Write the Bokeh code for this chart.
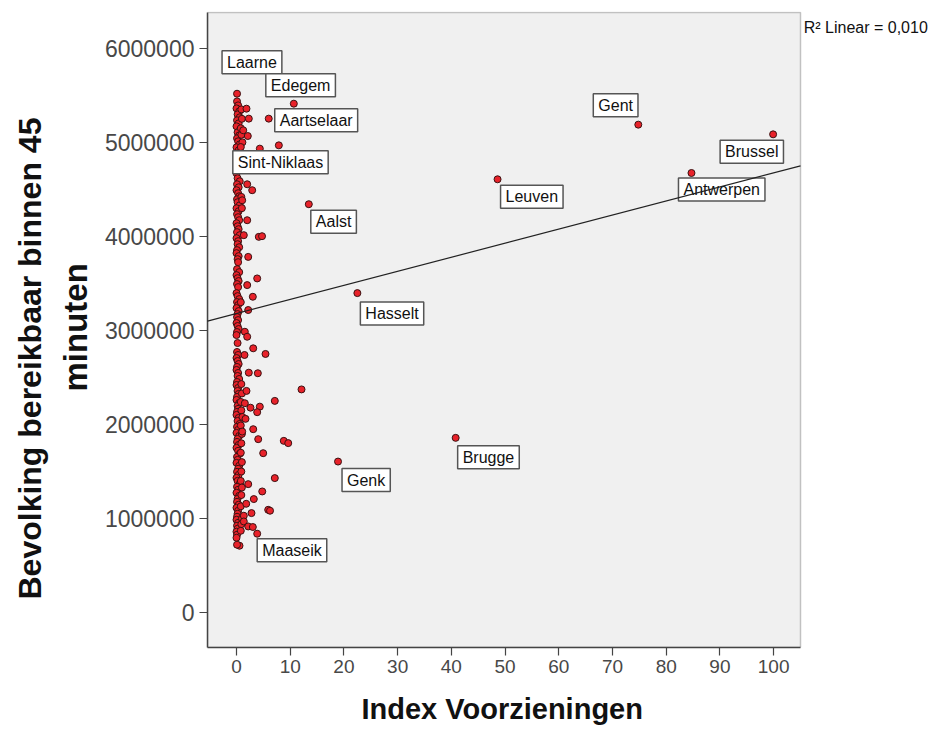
from bokeh.plotting import figure
from bokeh.models import Range1d, FixedTicker, Label, BoxAnnotation, Title
from bokeh.embed import file_html
from bokeh.resources import INLINE

# ---------------- data ----------------
# municipalities with an index close to 0 (the dense column)
col_index = [0.1, 0.3, 0.0, 0.5, 0.2, 0.6, 0.1, 0.4, 0.0, 0.7, 0.2, 0.5, 0.1, 0.3, 0.6, 0.0,
             0.4, 0.2, 0.5, 0.1, 0.3, 0.0, 0.2, 0.6, 0.1, 0.4, 0.0, 0.3, 0.5, 0.1, 0.2, 0.6,
             0.0, 0.4, 0.1, 0.3, 0.5, 0.0, 0.2, 0.4, 0.1, 0.6, 0.0, 0.3, 0.2, 0.5, 0.1, 0.0,
             0.4, 0.2, 0.3, 0.1, 0.5, 0.0, 0.2, 0.4, 0.1, 0.3, 0.0, 0.2, 0.5, 0.1, 0.3, 0.0,
             0.4, 0.2, 0.1, 0.3, 0.0, 0.2, 0.4, 0.1, 0.0, 0.2, 0.1, 0.3, 0.0, 0.2, 0.4, 0.1,
             0.0, 0.3, 0.2, 0.5, 0.1, 0.0, 0.3, 0.2, 0.4, 0.1, 0.0, 0.5, 0.2, 0.3, 0.1, 0.0,
             0.4, 0.2, 0.6, 0.1, 0.3, 0.0, 0.5, 0.2, 0.1, 0.4, 0.0, 0.3, 0.6, 0.1, 0.2, 0.0,
             0.5, 0.3, 0.1, 0.4, 0.0, 0.2, 0.6, 0.1, 0.3, 0.0, 0.5, 0.2, 0.1, 0.4, 0.0, 0.3,
             0.2, 0.1, 0.0, 0.3, 0.1, 0.2, 0.0, 0.1, 0.0]
col_pop = [5435000, 5393000, 5361000, 5329000, 5297000, 5266000, 5234000, 5202000, 5170000,
           5138000, 5106000, 5074000, 5043000, 5011000, 4979000, 4947000, 4915000, 4883000,
           4830000, 4777000, 4724000, 4671000, 4618000, 4586000, 4554000, 4522000, 4491000,
           4459000, 4427000, 4395000, 4363000, 4331000, 4299000, 4268000, 4236000, 4204000,
           4172000, 4140000, 4108000, 4077000, 4045000, 4013000, 3981000, 3949000, 3917000,
           3885000, 3854000, 3822000, 3790000, 3758000, 3726000, 3652000, 3620000, 3588000,
           3556000, 3525000, 3493000, 3461000, 3397000, 3365000, 3333000, 3302000, 3270000,
           3238000, 3206000, 3174000, 3142000, 3110000, 3079000, 3047000, 3015000, 2983000,
           2951000, 2866000, 2771000, 2739000, 2707000, 2675000, 2643000, 2612000, 2580000,
           2548000, 2516000, 2484000, 2452000, 2420000, 2389000, 2357000, 2325000, 2293000,
           2261000, 2229000, 2198000, 2166000, 2134000, 2102000, 2070000, 2038000, 2006000,
           1975000, 1943000, 1911000, 1879000, 1847000, 1815000, 1783000, 1752000, 1720000,
           1688000, 1656000, 1624000, 1592000, 1561000, 1529000, 1497000, 1465000, 1433000,
           1401000, 1369000, 1338000, 1306000, 1274000, 1242000, 1210000, 1178000, 1147000,
           1115000, 1083000, 1051000, 1019000, 987000, 955000, 924000, 892000, 860000,
           828000, 796000]

# second, slightly wider band of the column
band_index = [0.9, 1.0, 0.8, 0.9, 1.1, 0.8, 0.9, 1.0, 0.8, 0.9, 1.0, 0.8, 0.9, 1.1,
              0.8, 1.0, 0.9, 0.8, 1.0, 0.9, 0.8, 1.0, 0.9, 0.8, 1.0, 0.9, 0.8]
band_pop = [5350000, 5250000, 5150000, 5080000, 5000000, 4950000, 4420000, 4300000,
            3300000, 2430000, 2330000, 2240000, 2150000, 2080000, 1990000, 1900000,
            1800000, 1700000, 1600000, 1500000, 1400000, 1330000, 1250000, 1130000,
            1000000, 940000, 870000]

# scattered municipalities with a small index
other_index = [1.86, 2.29, 1.25, 2.10, 7.88, 1.99, 2.92, 1.06, 1.99, 1.36, 4.15, 4.75,
               2.18, 3.85, 1.99, 3.04, 2.18, 1.55, 1.99, 3.11, 5.40, 1.49, 2.29, 3.97,
               12.10, 1.86, 7.13, 1.55, 2.60, 4.34, 3.85, 1.68, 3.11, 1.06, 4.04, 8.80,
               9.63, 4.97, 7.13, 2.18, 4.79, 3.22, 1.81, 5.90, 6.24, 2.79, 1.36, 1.36,
               2.18, 3.04, 0.56, 0.10]
other_pop = [5358000, 5252000, 5128000, 5067000, 4968000, 4554000, 4491000, 4384000,
             4172000, 4013000, 3995000, 4002000, 3782000, 3553000, 3482000, 3358000,
             3217000, 2986000, 2933000, 2810000, 2750000, 2739000, 2551000, 2545000,
             2373000, 2357000, 2251000, 2226000, 2179000, 2190000, 2131000, 2060000,
             1950000, 1925000, 1844000, 1826000, 1802000, 1695000, 1430000, 1366000,
             1288000, 1207000, 1157000, 1093000, 1083000, 1058000, 1030000, 969000,
             916000, 910000, 711000, 722000]

# labelled municipalities
names = ["Laarne", "Edegem", "Aartselaar", "Sint-Niklaas", "Aalst", "Leuven", "Gent",
         "Brussel", "Antwerpen", "Hasselt", "Brugge", "Genk", "Maaseik"]
named_index = [0.1, 10.67, 6.0, 4.34, 13.46, 48.6, 74.8, 99.9, 84.7, 22.5, 40.8, 18.9, 3.85]
named_pop = [5517000, 5411000, 5252000, 4933000, 4342000, 4607000, 5188000, 5085000,
             4674000, 3397000, 1858000, 1606000, 839000]

x_ticks = [0, 10, 20, 30, 40, 50, 60, 70, 80, 90, 100]
y_ticks = [0, 1000000, 2000000, 3000000, 4000000, 5000000, 6000000]
y_tick_labels = ["0", "1000000", "2000000", "3000000", "4000000", "5000000", "6000000"]

fit_intercept = 3180000
fit_slope = 14950
r2_text = "R\u00b2 Linear = 0,010"

x_title = "Index Voorzieningen"
y_title_lines = ["Bevolking bereikbaar binnen 45", "minuten"]

# ---------------- layout / styling ----------------
FONT = "Liberation Sans"
AREA_X = (-5.4, 105.0)            # plot area (grey box) in data units
AREA_Y = (-371000, 6380000)
VIEW_X = (-5.4, 129.2)            # frame extends right so the R2 note can sit beside the box
VIEW_Y = (-371000, 6391000)

# box corner offset (px, right / down) from the point for each label
label_offsets = {
    "Laarne": (-15, -43), "Edegem": (-28, -30), "Aartselaar": (6, -10),
    "Sint-Niklaas": (-27, 2), "Aalst": (2, 6), "Leuven": (3, 6), "Gent": (-45, -31),
    "Brussel": (-53, 6), "Antwerpen": (-13, 5), "Hasselt": (3, 9), "Brugge": (2, 8),
    "Genk": (4, 7), "Maaseik": (0, 5),
}

p = figure(width=930, height=740,
           x_range=Range1d(*VIEW_X), y_range=Range1d(*VIEW_Y),
           output_backend="svg", toolbar_location=None,
           min_border_left=207, min_border_right=0, min_border_top=11, min_border_bottom=92)

p.background_fill_color = "white"
p.border_fill_color = "white"
p.outline_line_color = None
p.grid.visible = False

p.add_layout(BoxAnnotation(left=AREA_X[0], right=AREA_X[1], bottom=AREA_Y[0], top=AREA_Y[1],
                           fill_color="#f0f0f0", fill_alpha=1.0,
                           line_color="#444444", line_width=1.5, level="underlay"))

for ax in (p.xaxis, p.yaxis):
    ax.axis_line_color = "#444444"
    ax.axis_line_width = 1.5
    ax.major_tick_line_color = "#444444"
    ax.major_tick_line_width = 1.2
    ax.major_tick_out = 8
    ax.major_tick_in = 0
    ax.minor_tick_out = 0
    ax.minor_tick_in = 0
    ax.major_label_text_font = FONT
    ax.major_label_text_color = "#484848"

p.xaxis.bounds = AREA_X
p.yaxis.bounds = AREA_Y
p.xaxis.ticker = FixedTicker(ticks=x_ticks)
p.yaxis.ticker = FixedTicker(ticks=y_ticks)
p.yaxis.major_label_overrides = {t: s for t, s in zip(y_ticks, y_tick_labels)}
p.xaxis.major_label_text_font_size = "19px"
p.yaxis.major_label_text_font_size = "23px"
p.xaxis.major_label_standoff = 4
p.yaxis.major_label_standoff = 5

title_style = dict(text_font=FONT, text_font_style="bold", text_color="#111111", align="left")
# x title: placed under the middle of the grey plot area (frame is wider than the box)
p.add_layout(Title(text=x_title, text_font_size="29px", offset=154, standoff=31,
                   **title_style), "below")
# y title: two lines, inner line first; offsets measured from the bottom of the frame
p.add_layout(Title(text=y_title_lines[1], text_font_size="33px", offset=256, standoff=15,
                   **title_style), "left")
p.add_layout(Title(text=y_title_lines[0], text_font_size="32px", offset=48, standoff=0,
                   **title_style), "left")

dot = dict(size=7, fill_color="#e8222a", line_color="#3a1212", line_width=1)
p.scatter(col_index, col_pop, **dot)
p.scatter(band_index, band_pop, **dot)
p.scatter(other_index, other_pop, **dot)
p.scatter(named_index, named_pop, **dot)

for n, xi, yi in zip(names, named_index, named_pop):
    dx, dy = label_offsets[n]
    p.add_layout(Label(x=xi, y=yi, text=n, x_offset=dx, y_offset=-dy,
                       text_align="left", text_baseline="top",
                       text_font=FONT, text_font_size="16px", text_color="#111111",
                       background_fill_color="white", border_line_color="#555555",
                       border_line_width=1.5, padding=dict(x=5, y=3)))

# linear fit line across the plot area, drawn above the labels
fit_x = [AREA_X[0], AREA_X[1]]
fit_y = [fit_intercept + fit_slope * v for v in fit_x]
p.line(fit_x, fit_y, line_color="#222222", line_width=1.2, level="overlay")

p.add_layout(Label(x=105.6, y=6221000, text=r2_text, text_align="left",
                   text_baseline="middle", text_font=FONT, text_font_size="16px",
                   text_color="#111111"))

open("out.html", "w").write(file_html(p, INLINE))
